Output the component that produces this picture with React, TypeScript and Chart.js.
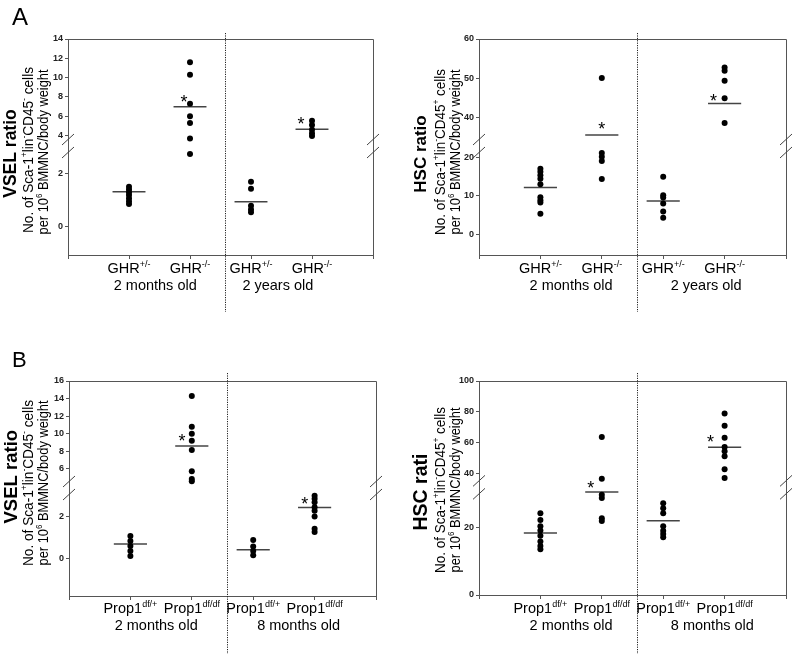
import React, { useEffect, useRef } from 'react';
import { Chart, registerables } from 'chart.js';
Chart.register(...registerables);

// ---------------- DATA ----------------
type Seg = { t: string; sup?: boolean };

// column labels (base text + superscript)
const ghrBase = ['GHR', 'GHR', 'GHR', 'GHR'];
const ghrSup = ['+/-', '-/-', '+/-', '-/-'];
const ghrGroups = ['2 months old', '2 years old'];
const propBase = ['Prop1', 'Prop1', 'Prop1', 'Prop1'];
const propSup = ['df/+', 'df/df', 'df/+', 'df/df'];
const propGroups = ['2 months old', '8 months old'];

// Panel A – VSEL, GHR
const vselGhrValues = [
  [1.5, 1.4, 1.29, 1.19, 1.07, 0.96, 0.85],
  [11.6, 10.3, 7.3, 6.0, 5.3, 3.7, 2.73],
  [1.69, 1.43, 0.79, 0.65, 0.54],
  [5.55, 5.1, 4.6, 4.25, 3.97],
];
const vselGhrMeans = [1.31, 7.0, 0.94, 4.66];
const vselGhrStarCols = [2, 4];
const vselGhrStarValues = [7.93, 5.62];
const vselGhrTicksTop = [4, 6, 8, 10, 12, 14];
const vselGhrTicksBottom = [0, 2];

// Panel A – HSC, GHR
const hscGhrValues = [
  [17.0, 16.2, 15.3, 14.4, 13.0, 9.6, 8.8, 8.2, 5.3],
  [50, 21.1, 20.1, 19.0, 14.3],
  [14.9, 10.1, 9.5, 8.0, 5.9, 4.3],
  [52.7, 51.9, 49.3, 44.8, 38.5],
];
const hscGhrMeans = [12.1, 35.4, 8.6, 43.5];
const hscGhrStarCols = [2, 4];
const hscGhrStarValues = [37.9, 45.2];
const hscGhrTicksTop = [40, 50, 60];
const hscGhrTicksBottom = [0, 10, 20];

// Panel B – VSEL, Prop1
const vselPropValues = [
  [1.09, 0.85, 0.61, 0.37, 0.13],
  [14.3, 10.8, 10.0, 9.2, 8.15, 5.74, 4.85, 4.6],
  [0.9, 0.58, 0.37, 0.16],
  [3.02, 2.88, 2.71, 2.47, 2.3, 2.02, 1.44, 1.28],
];
const vselPropMeans = [0.7, 8.6, 0.43, 2.45];
const vselPropStarCols = [2, 4];
const vselPropStarValues = [9.67, 2.8];
const vselPropTicksTop = [6, 8, 10, 12, 14, 16];
const vselPropTicksBottom = [0, 2];

// Panel B – HSC, Prop1
const hscPropValues = [
  [24.3, 22.3, 20.4, 19.2, 17.6, 15.9, 14.6, 13.6],
  [63.7, 36.6, 29.8, 28.8, 22.8, 22.0],
  [27.3, 25.8, 24.3, 20.4, 19.1, 18.1, 17.2],
  [78.9, 71, 63.1, 57.2, 54.4, 51.2, 42.8, 37],
];
const hscPropMeans = [18.4, 30.6, 22.1, 57];
const hscPropStarCols = [2, 4];
const hscPropStarValues = [32.9, 63];
const hscPropTicksTop = [40, 60, 80, 100];
const hscPropTicksBottom = [0, 20];

const xTicks = [0, 1, 2, 3, 4, 5];

const vselLine2: Seg[] = [
  { t: 'No. of Sca-1' }, { t: '+', sup: true }, { t: 'lin' }, { t: '-', sup: true },
  { t: 'CD45' }, { t: '-', sup: true }, { t: ' cells' },
];
const hscLine2: Seg[] = [
  { t: 'No. of Sca-1' }, { t: '+', sup: true }, { t: 'lin' }, { t: '-', sup: true },
  { t: 'CD45' }, { t: '+', sup: true }, { t: ' cells' },
];
const line3: Seg[] = [{ t: 'per 10' }, { t: '6', sup: true }, { t: ' BMMNC/body weight' }];

// ---------------- LAYOUT / STYLE ----------------
const FAMILY = '"Liberation Sans", Arial, Helvetica, sans-serif';
const AXIS = '#555';
const MEAN_HALF = 0.27;

type Panel = {
  box: { x: number; y: number; w: number; h: number };
  pad: { left: number; right: number; top: number; bottom: number };
  top: { min: number; max: number; ticks: number[]; weight: number };
  bottom: { min: number; max: number; ticks: number[]; weight: number };
  values: number[][];
  means: number[];
  starCols: number[];
  starOffsets: number[];
  starValues: number[];
  colBase: string[];
  colSup: string[];
  groups: string[];
  groupX: number[];
  main: string;
  mainSize: number;
  line2: Seg[];
  titleX: number[];
  titleY: number[];
  dividerX: number;
  dividerY: [number, number];
  rowY: [number, number];
  letter?: { t: string; x: number; y: number; size: number };
};

const PANELS: Panel[] = [
  {
    box: { x: 0, y: 0, w: 397, h: 330 },
    pad: { left: 38, right: 24, top: 39, bottom: 69 },
    top: { min: 2.93, max: 14, ticks: vselGhrTicksTop, weight: 107 },
    bottom: { min: -1.06, max: 3.03, ticks: vselGhrTicksBottom, weight: 109 },
    values: vselGhrValues, means: vselGhrMeans,
    starCols: vselGhrStarCols, starOffsets: [-0.1, -0.18], starValues: vselGhrStarValues,
    colBase: ghrBase, colSup: ghrSup, groups: ghrGroups, groupX: [1.43, 3.44],
    main: 'VSEL ratio', mainSize: 17.5, line2: vselLine2,
    titleX: [10, 28, 43], titleY: [153.5, 150, 152],
    dividerX: 2.58, dividerY: [33, 312], rowY: [273, 290],
    letter: { t: 'A', x: 12, y: 25, size: 24 },
  },
  {
    box: { x: 397, y: 0, w: 397, h: 330 },
    pad: { left: 52, right: 8, top: 39, bottom: 69 },
    top: { min: 32.6, max: 60, ticks: hscGhrTicksTop, weight: 107 },
    bottom: { min: -5.4, max: 22.9, ticks: hscGhrTicksBottom, weight: 109 },
    values: hscGhrValues, means: hscGhrMeans,
    starCols: hscGhrStarCols, starOffsets: [0, -0.18], starValues: hscGhrStarValues,
    colBase: ghrBase, colSup: ghrSup, groups: ghrGroups, groupX: [1.5, 3.7],
    main: 'HSC ratio', mainSize: 17, line2: hscLine2,
    titleX: [23, 43, 58], titleY: [154, 152, 152],
    dividerX: 2.58, dividerY: [33, 312], rowY: [273, 290],
  },
  {
    box: { x: 0, y: 330, w: 397, h: 324 },
    pad: { left: 39, right: 21, top: 51, bottom: 52 },
    top: { min: 3.84, max: 16, ticks: vselPropTicksTop, weight: 107 },
    bottom: { min: -1.79, max: 3.39, ticks: vselPropTicksBottom, weight: 108 },
    values: vselPropValues, means: vselPropMeans,
    starCols: vselPropStarCols, starOffsets: [-0.16, -0.16], starValues: vselPropStarValues,
    colBase: propBase, colSup: propSup, groups: propGroups, groupX: [1.42, 3.74],
    main: 'VSEL ratio', mainSize: 18.5, line2: vselLine2,
    titleX: [10, 28, 43], titleY: [146.7, 153, 153],
    dividerX: 2.58, dividerY: [43, 324], rowY: [283, 300],
    letter: { t: 'B', x: 12, y: 37, size: 22 },
  },
  {
    box: { x: 397, y: 330, w: 397, h: 324 },
    pad: { left: 52, right: 8, top: 51, bottom: 53 },
    top: { min: 31, max: 100, ticks: hscPropTicksTop, weight: 106.5 },
    bottom: { min: 0, max: 32, ticks: hscPropTicksBottom, weight: 107.8 },
    values: hscPropValues, means: hscPropMeans,
    starCols: hscPropStarCols, starOffsets: [-0.18, -0.23], starValues: hscPropStarValues,
    colBase: propBase, colSup: propSup, groups: propGroups, groupX: [1.5, 3.8],
    main: 'HSC rati', mainSize: 19.5, line2: hscLine2,
    titleX: [23, 43, 58], titleY: [162, 160, 160],
    dividerX: 2.58, dividerY: [43, 324], rowY: [283, 300],
  },
];

// ---------------- RICH TEXT ----------------
function segFont(size: number, weight: string, sup?: boolean) {
  return `${weight} ${sup ? size * 0.62 : size}px ${FAMILY}`;
}
function measureRich(ctx: CanvasRenderingContext2D, segs: Seg[], size: number, weight: string) {
  let w = 0;
  for (const s of segs) {
    ctx.font = segFont(size, weight, s.sup);
    w += ctx.measureText(s.t).width;
  }
  return w;
}
function drawRich(
  ctx: CanvasRenderingContext2D, segs: Seg[], x: number, y: number, size: number, weight: string,
  opts: { rotate?: boolean; fit?: number; baseOffset?: number } = {}
) {
  ctx.save();
  ctx.translate(x, y);
  if (opts.rotate) ctx.rotate(-Math.PI / 2);
  const w = measureRich(ctx, segs, size, weight);
  const sx = opts.fit ? opts.fit / w : 1;
  ctx.scale(sx, 1);
  let cx = -w / 2;
  const base = opts.baseOffset ?? 0;
  ctx.textAlign = 'left';
  ctx.textBaseline = 'alphabetic';
  ctx.fillStyle = '#000';
  for (const s of segs) {
    ctx.font = segFont(size, weight, s.sup);
    ctx.fillText(s.t, cx, s.sup ? base - size * 0.42 : base);
    cx += ctx.measureText(s.t).width;
  }
  ctx.restore();
}

// ---------------- CHART ----------------
function buildConfig(p: Panel): any {
  const datasets: any[] = [];
  const axisFor = (v: number) => (v >= p.top.min ? 'y' : 'y2');
  p.values.forEach((col, i) => {
    const xv = i + 1;
    ['y', 'y2'].forEach((ax) => {
      const pts = col.filter((v) => axisFor(v) === ax).map((v) => ({ x: xv, y: v }));
      if (pts.length) {
        datasets.push({
          data: pts, yAxisID: ax, xAxisID: 'x',
          pointRadius: 3, pointBackgroundColor: '#000', pointBorderWidth: 0, showLine: false,
        });
      }
    });
  });
  p.means.forEach((m, i) => {
    datasets.push({
      data: [{ x: i + 1 - MEAN_HALF, y: m }, { x: i + 1 + MEAN_HALF, y: m }],
      yAxisID: axisFor(m), xAxisID: 'x',
      showLine: true, pointRadius: 0, borderColor: '#444', borderWidth: 1.5, fill: false,
    });
  });

  const yScale = (sec: Panel['top'], weight: number) => ({
    type: 'linear', position: 'left', stack: 'v', stackWeight: sec.weight, weight,
    min: sec.min, max: sec.max, bounds: 'data',
    afterBuildTicks: (s: any) => { s.ticks = sec.ticks.map((v) => ({ value: v })); },
    afterFit: (s: any) => { s.width = 30; },
    ticks: {
      font: { family: FAMILY, size: 9, weight: 'bold' }, color: '#222', padding: 2,
      autoSkip: false, maxRotation: 0,
      callback: (v: any) => String(v),
    },
    grid: { drawOnChartArea: false, drawTicks: true, tickLength: 3, color: AXIS, tickColor: AXIS },
    border: { display: true, color: AXIS, width: 1 },
  });

  const decor = {
    id: 'decor',
    afterDraw(chart: any) {
      const ctx: CanvasRenderingContext2D = chart.ctx;
      const a = chart.chartArea;
      const xs = chart.scales.x;
      const yt = chart.scales.y;
      const yb = chart.scales.y2;
      ctx.save();
      // box top & right
      ctx.strokeStyle = AXIS;
      ctx.lineWidth = 1;
      ctx.beginPath();
      ctx.moveTo(a.left, a.top + 0.5);
      ctx.lineTo(a.right + 0.5, a.top + 0.5);
      ctx.lineTo(a.right + 0.5, a.bottom);
      ctx.stroke();
      // break marks
      const brk = yt.bottom;
      ctx.strokeStyle = '#444';
      ctx.beginPath();
      for (const ax of [a.left, a.right]) {
        for (const dy of [-6.5, 6.5]) {
          ctx.moveTo(ax - 6, brk + dy + 5.5);
          ctx.lineTo(ax + 6, brk + dy - 5.5);
        }
      }
      ctx.stroke();
      // divider
      const dx = Math.round(xs.getPixelForValue(p.dividerX)) + 0.5;
      ctx.strokeStyle = '#222';
      ctx.setLineDash([1.2, 1.2]);
      ctx.beginPath();
      ctx.moveTo(dx, p.dividerY[0]);
      ctx.lineTo(dx, p.dividerY[1]);
      ctx.stroke();
      ctx.setLineDash([]);
      // stars
      ctx.fillStyle = '#000';
      ctx.font = `18px ${FAMILY}`;
      ctx.textAlign = 'center';
      ctx.textBaseline = 'alphabetic';
      p.starCols.forEach((c, i) => {
        const v = p.starValues[i];
        const sc = v >= p.top.min ? yt : yb;
        const px = xs.getPixelForValue(c + p.starOffsets[i]);
        const py = sc.getPixelForValue(v);
        ctx.fillText('*', px, py + 10);
      });
      // x labels
      p.colBase.forEach((b, i) => {
        drawRich(ctx, [{ t: b }, { t: p.colSup[i], sup: true }], xs.getPixelForValue(i + 1), p.rowY[0], 14.5, 'normal');
      });
      p.groups.forEach((g, i) => {
        drawRich(ctx, [{ t: g }], xs.getPixelForValue(p.groupX[i]), p.rowY[1], 14.5, 'normal');
      });
      // y titles
      drawRich(ctx, [{ t: p.main }], p.titleX[0], p.titleY[0], p.mainSize, 'bold', { rotate: true, baseOffset: p.mainSize * 0.36 });
      drawRich(ctx, p.line2, p.titleX[1], p.titleY[1], 14, 'normal', { rotate: true, fit: 166, baseOffset: 14 * 0.36 });
      drawRich(ctx, line3, p.titleX[2], p.titleY[2], 14, 'normal', { rotate: true, fit: 165, baseOffset: 14 * 0.36 });
      // panel letter
      if (p.letter) {
        ctx.font = `${p.letter.size}px ${FAMILY}`;
        ctx.textAlign = 'left';
        ctx.fillStyle = '#000';
        ctx.fillText(p.letter.t, p.letter.x, p.letter.y);
      }
      ctx.restore();
    },
  };

  return {
    type: 'scatter',
    data: { datasets },
    options: {
      responsive: false,
      animation: false,
      events: [],
      devicePixelRatio: 1,
      layout: { padding: p.pad },
      plugins: { legend: { display: false }, tooltip: { enabled: false } },
      scales: {
        x: {
          type: 'linear', position: 'bottom', min: 0, max: 5, bounds: 'data',
          afterBuildTicks: (s: any) => { s.ticks = xTicks.map((v) => ({ value: v })); },
          afterFit: (s: any) => { s.height = 6; },
          ticks: { display: false, autoSkip: false },
          grid: { drawOnChartArea: false, drawTicks: true, tickLength: 4, color: AXIS, tickColor: AXIS },
          border: { display: true, color: AXIS, width: 1 },
        },
        y2: yScale(p.bottom, 0),
        y: yScale(p.top, 1),
      },
    },
    plugins: [decor],
  };
}

function PanelChart({ p }: { p: Panel }) {
  const ref = useRef<HTMLCanvasElement>(null);
  useEffect(() => {
    const chart = new Chart(ref.current as HTMLCanvasElement, buildConfig(p));
    return () => chart.destroy();
  }, [p]);
  return (
    <canvas
      ref={ref}
      width={p.box.w}
      height={p.box.h}
      style={{ position: 'absolute', left: p.box.x, top: p.box.y, width: p.box.w, height: p.box.h }}
    />
  );
}

export default function App() {
  return (
    <div style={{ position: 'absolute', left: 0, top: 0, width: 794, height: 654, background: '#fff' }}>
      {PANELS.map((p, i) => (
        <PanelChart key={i} p={p} />
      ))}
    </div>
  );
}
